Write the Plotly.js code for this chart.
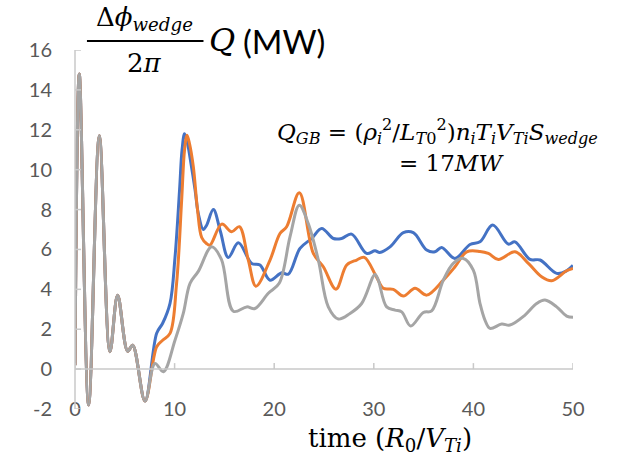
<!DOCTYPE html>
<html>
<head>
<meta charset="utf-8">
<script src="https://cdn.plot.ly/plotly-3.0.1.min.js"></script>
<style>html,body{margin:0;padding:0;background:#fff;}#chart{width:621px;height:462px;}</style>
</head>
<body>
<div id="chart"></div>
<script>
// time (R0/VTi) and Δφ_wedge/2π Q (MW) for three runs
const timeBlue = [0,0.43,1.37,2.44,3.51,4.28,5.29,5.79,7.03,8.2,8.8,9.54,10.04,10.5,10.75,11.0,11.3,11.55,12.05,12.38,12.88,13.2,13.89,14.6,15.39,16.4,17.74,18.57,19.58,20.75,21.42,22.59,23.76,24.77,25.94,26.77,27.77,29.28,30.12,30.6,31.63,32.97,33.97,35.31,36.14,36.81,38.15,39.66,40.66,41.94,43.5,44.18,45.68,46.69,48.36,49.36,50];
const qBlue    = [0.2,14.8,-1.8,11.7,0.87,3.7,0.9,1.2,-1.6,1.8,2.3,3.3,5.6,9.0,11.0,11.8,11.3,10.6,9.0,7.8,7.0,7.2,8.0,6.9,5.6,6.33,5.3,5.22,4.46,4.83,4.76,6.05,6.55,7.05,6.55,6.55,6.77,5.8,5.93,5.85,6.13,6.84,6.84,5.97,5.88,6.1,5.55,6.25,6.38,7.22,6.27,6.38,5.5,5.47,4.8,4.93,5.2];

const timeOrange = [0,0.43,1.37,2.44,3.51,4.28,5.29,5.79,7.03,8.2,8.8,9.54,10.2,10.71,11.0,11.25,11.5,11.88,12.3,12.72,13.2,13.55,14.73,15.73,16.5,17.4,18.17,19.58,20.58,21.25,22.52,23.93,24.93,26.2,27.28,28.28,29.05,30.29,30.95,31.96,32.97,34.14,35.31,36.98,38.15,39.33,40.66,41.5,42.5,44.18,45.52,46.85,47.86,49.36,50];
const qOrange    = [0.2,14.8,-1.8,11.7,0.87,3.7,0.9,1.2,-1.6,1.12,1.45,1.79,4.3,8.48,11.0,11.73,11.3,10.15,8.0,6.6,6.3,6.22,7.27,6.89,7.14,5.47,4.16,5.47,6.8,7.14,8.84,5.8,5.13,4.01,5.22,5.47,5.6,4.6,4.05,4.0,3.66,4.05,3.71,4.46,5.13,5.88,5.9,5.8,5.5,5.88,5.3,4.63,4.43,4.93,5.05];

const timeGray = [0,0.43,1.37,2.44,3.51,4.28,5.29,5.79,7.03,8.03,8.87,10.04,10.87,11.55,12.38,13.72,14.7,15.9,17.24,18.07,19.41,20.5,21.59,22.52,23.42,24.43,25.43,26.44,27.61,28.78,30.12,30.45,31.29,32.13,32.8,33.7,34.97,35.81,36.98,37.98,38.99,39.99,40.66,41.16,41.67,42.84,43.67,45.18,46.35,47.19,48.36,49.36,50];
const qGray    = [0.2,14.8,-1.8,11.7,0.87,3.7,0.9,1.2,-1.6,0.28,-0.13,1.45,2.79,4.3,4.9,6.13,5.5,2.9,3.12,3.04,3.8,4.3,6.64,8.22,7.3,5.47,3.12,2.51,2.79,3.29,4.75,4.46,3.12,2.96,2.87,2.16,2.84,2.92,4.46,5.3,5.55,4.96,3.3,2.46,2.04,2.26,2.21,2.71,3.29,3.46,3.12,2.66,2.6];

const xTicks = [0,10,20,30,40,50];
const yTicks = [-2,0,2,4,6,8,10,12,14,16];

function line(x, y, color) {
  return {x: x, y: y, type: 'scatter', mode: 'lines',
    line: {color: color, width: 3, shape: 'spline', smoothing: 1},
    hoverinfo: 'skip', showlegend: false};
}

const data = [
  line(timeBlue, qBlue, '#4472C4'),
  line(timeOrange, qOrange, '#ED7D31'),
  line(timeGray, qGray, '#A5A5A5')
];

const axisColor = '#C9C9C9';
const axisStyle = {color: axisColor, width: 1.5};
// axis lines (y axis at x=0, horizontal axis at y=0) and inside tick marks
const axisShapes = [
  {type: 'line', xref: 'paper', yref: 'paper', x0: 0, x1: 0, y0: 0, y1: 1, line: axisStyle},
  {type: 'line', xref: 'paper', yref: 'y', x0: 0, x1: 1, y0: 0, y1: 0, line: axisStyle}
].concat(
  xTicks.map(v => ({type: 'line', xref: 'x', yref: 'y', ysizemode: 'pixel', yanchor: 0,
    x0: v, x1: v, y0: 0, y1: 6, line: axisStyle})),
  yTicks.map(v => ({type: 'line', xref: 'x', yref: 'y', xsizemode: 'pixel', xanchor: 0,
    x0: 0, x1: 6, y0: v, y1: v, line: axisStyle}))
);

const serif = 'DejaVu Serif';
const layout = {
  width: 621, height: 462,
  margin: {l: 75, r: 48, t: 50, b: 53, pad: 0},
  paper_bgcolor: '#ffffff', plot_bgcolor: '#ffffff',
  showlegend: false,
  font: {family: 'Lato', color: '#595959', size: 20},
  xaxis: {
    range: [0, 50], tickvals: xTicks, ticktext: xTicks.map(String),
    showgrid: false, zeroline: false, showline: false,
    ticks: '', ticklabelstandoff: -14,
    tickfont: {family: 'Lato', size: 20, color: '#595959'}
  },
  yaxis: {
    range: [-2, 16], tickvals: yTicks, ticktext: yTicks.map(String),
    showgrid: false, zeroline: false, showline: false,
    ticks: '', ticklabelstandoff: 22,
    tickfont: {family: 'Lato', size: 20, color: '#595959'}
  },
  shapes: axisShapes.concat([
    {type: 'line', xref: 'paper', yref: 'paper', x0: 0.024, x1: 0.258, y0: 1.025, y1: 1.025,
     line: {color: '#000000', width: 2}}
  ]),
  annotations: [
    {xref: 'paper', yref: 'paper', x: 0.14, y: 1.036, xanchor: 'center', yanchor: 'bottom', showarrow: false,
     text: 'Δ<i>ϕ</i><sub><i>wedge</i></sub>', font: {family: serif, size: 26, color: '#000000'}},
    {xref: 'paper', yref: 'paper', x: 0.139, y: 1.012, xanchor: 'center', yanchor: 'top', showarrow: false,
     text: '2<i>π</i>', font: {family: serif, size: 26, color: '#000000'}},
    {xref: 'paper', yref: 'paper', x: 0.265, y: 1.028, xanchor: 'left', yanchor: 'middle', showarrow: false,
     text: '<i>Q</i>', font: {family: serif, size: 32, color: '#000000'}},
    {xref: 'paper', yref: 'paper', x: 0.333, y: 1.025, xanchor: 'left', yanchor: 'middle', showarrow: false,
     text: '(MW)', font: {family: 'Lato', size: 33, color: '#000000'}},
    {xref: 'paper', yref: 'paper', x: 0.727, y: 0.774, xanchor: 'center', yanchor: 'middle', showarrow: false,
     text: '<i>Q</i><sub><i>GB</i></sub> = (<i>ρ</i><sub><i>i</i></sub><sup>2</sup>/<i>L</i><sub><i>T</i>0</sub><sup>2</sup>)<i>n</i><sub><i>i</i></sub><i>T</i><sub><i>i</i></sub><i>V</i><sub><i>Ti</i></sub><i>S</i><sub><i>wedge</i></sub>',
     font: {family: serif, size: 23, color: '#000000'}},
    {xref: 'paper', yref: 'paper', x: 0.757, y: 0.685, xanchor: 'center', yanchor: 'middle', showarrow: false,
     text: '= 17<i>MW</i>', font: {family: serif, size: 23, color: '#000000'}},
    {xref: 'paper', yref: 'paper', x: 0.633, y: -0.086, xanchor: 'center', yanchor: 'middle', showarrow: false,
     text: 'time (<i>R</i><sub>0</sub>/<i>V</i><sub><i>Ti</i></sub>)', font: {family: serif, size: 26, color: '#000000'}}
  ]
};

Plotly.newPlot('chart', data, layout, {displayModeBar: false, staticPlot: true});
</script>
</body>
</html>
